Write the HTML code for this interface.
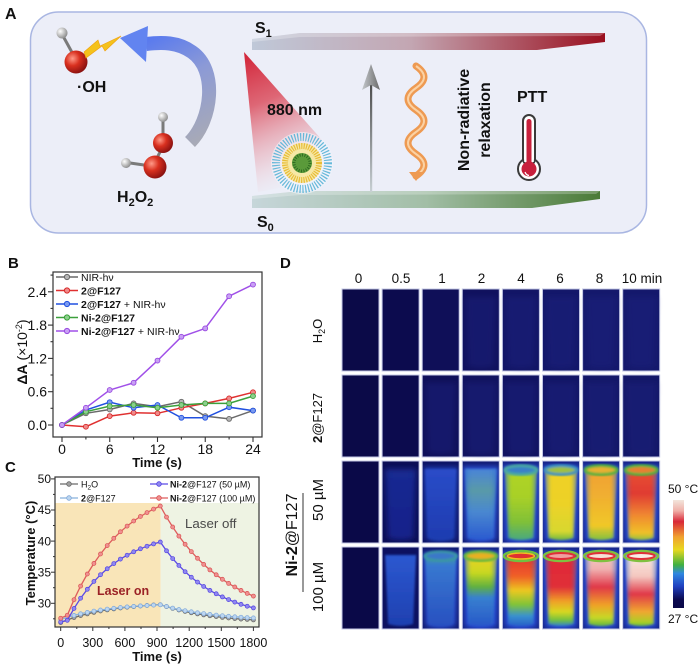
<!DOCTYPE html>
<html><head><meta charset="utf-8"><title>figure</title>
<style>
html,body{margin:0;padding:0;background:#fff;width:700px;height:665px;overflow:hidden}
svg{display:block}
text{font-family:"Liberation Sans",Arial,sans-serif;fill:#111}
</style></head><body>
<svg width="700" height="665" viewBox="0 0 700 665" xmlns="http://www.w3.org/2000/svg">
<defs>
 <linearGradient id="gS1" x1="0" y1="0" x2="1" y2="0">
  <stop offset="0" stop-color="#bfc8d8"/><stop offset="0.45" stop-color="#c3a6b2"/><stop offset="1" stop-color="#9a0f1f"/>
 </linearGradient>
 <linearGradient id="gS0" x1="0" y1="0" x2="1" y2="0">
  <stop offset="0" stop-color="#c6d6da"/><stop offset="0.5" stop-color="#a2bea6"/><stop offset="1" stop-color="#4a7a36"/>
 </linearGradient>
 <linearGradient id="gBeam" gradientUnits="userSpaceOnUse" x1="246" y1="55" x2="300" y2="185">
  <stop offset="0" stop-color="#d2263a" stop-opacity="1"/>
  <stop offset="0.35" stop-color="#da4454" stop-opacity="0.8"/>
  <stop offset="0.75" stop-color="#e89aa4" stop-opacity="0.35"/>
  <stop offset="1" stop-color="#f2d0d6" stop-opacity="0"/>
 </linearGradient>
 <linearGradient id="gArr" gradientUnits="userSpaceOnUse" x1="140" y1="40" x2="195" y2="145">
  <stop offset="0" stop-color="#5678f0"/><stop offset="0.45" stop-color="#8c9ad6"/><stop offset="1" stop-color="#a8aab6"/>
 </linearGradient>
 <radialGradient id="gO" cx="0.35" cy="0.35" r="0.7">
  <stop offset="0" stop-color="#ff9a88"/><stop offset="0.45" stop-color="#d9301f"/><stop offset="1" stop-color="#861010"/>
 </radialGradient>
 <radialGradient id="gH" cx="0.35" cy="0.35" r="0.7">
  <stop offset="0" stop-color="#ffffff"/><stop offset="1" stop-color="#8a8a8a"/>
 </radialGradient>
 <linearGradient id="gVA" x1="0" y1="1" x2="0" y2="0">
  <stop offset="0" stop-color="#c8d0d4"/><stop offset="1" stop-color="#4a4a4a"/>
 </linearGradient>
 <linearGradient id="gHead" x1="0" y1="0" x2="1" y2="0">
  <stop offset="0" stop-color="#c4c8cc"/><stop offset="1" stop-color="#6a6a6a"/>
 </linearGradient>
 <linearGradient id="gCbar" x1="0" y1="0" x2="0" y2="1">
  <stop offset="0" stop-color="#f2e6dc"/><stop offset="0.1" stop-color="#f0b0a8"/><stop offset="0.2" stop-color="#d82838"/>
  <stop offset="0.34" stop-color="#f0a030"/><stop offset="0.46" stop-color="#e8d820"/><stop offset="0.6" stop-color="#40b040"/>
  <stop offset="0.68" stop-color="#3088e0"/><stop offset="0.8" stop-color="#2040c0"/><stop offset="0.92" stop-color="#0c0a50"/><stop offset="1" stop-color="#0a0848"/>
 </linearGradient>
 <linearGradient id="gEdge" x1="0" y1="0" x2="1" y2="0">
  <stop offset="0" stop-color="#3070d0" stop-opacity="0.55"/><stop offset="0.18" stop-color="#3070d0" stop-opacity="0"/>
  <stop offset="0.82" stop-color="#3070d0" stop-opacity="0"/><stop offset="1" stop-color="#3070d0" stop-opacity="0.55"/>
 </linearGradient>

 <!-- tube gradients -->
 <linearGradient id="r3c1" x1="0" y1="0" x2="0" y2="1"><stop offset="0" stop-color="#1a2a92"/><stop offset="1" stop-color="#14208a"/></linearGradient>
 <linearGradient id="r3c2" x1="0" y1="0" x2="0" y2="1"><stop offset="0" stop-color="#2a4cc8"/><stop offset="1" stop-color="#1e3cb0"/></linearGradient>
 <linearGradient id="r3c3" x1="0" y1="0" x2="0" y2="1"><stop offset="0" stop-color="#4a84d8"/><stop offset="0.3" stop-color="#5a9aa8"/><stop offset="0.6" stop-color="#4a88d0"/><stop offset="1" stop-color="#2a5ad0"/></linearGradient>
 <linearGradient id="r3c4" x1="0" y1="0" x2="0" y2="1"><stop offset="0" stop-color="#b0d424"/><stop offset="0.4" stop-color="#a8d028"/><stop offset="0.75" stop-color="#80c038"/><stop offset="1" stop-color="#48a880"/></linearGradient>
 <linearGradient id="r3c5" x1="0" y1="0" x2="0" y2="1"><stop offset="0" stop-color="#f0d028"/><stop offset="0.5" stop-color="#ecd228"/><stop offset="0.88" stop-color="#d8d830"/><stop offset="1" stop-color="#70b840"/></linearGradient>
 <linearGradient id="r3c6" x1="0" y1="0" x2="0" y2="1"><stop offset="0" stop-color="#f0a030"/><stop offset="0.4" stop-color="#f0b030"/><stop offset="0.8" stop-color="#f0c828"/><stop offset="1" stop-color="#80c040"/></linearGradient>
 <linearGradient id="r3c7" x1="0" y1="0" x2="0" y2="1"><stop offset="0" stop-color="#e85030"/><stop offset="0.35" stop-color="#e03c30"/><stop offset="0.65" stop-color="#f08830"/><stop offset="0.9" stop-color="#f0c028"/><stop offset="1" stop-color="#90c040"/></linearGradient>
 <linearGradient id="r4c1" x1="0" y1="0" x2="0" y2="1"><stop offset="0" stop-color="#2c58d0"/><stop offset="1" stop-color="#1e40b0"/></linearGradient>
 <linearGradient id="r4c2" x1="0" y1="0" x2="0" y2="1"><stop offset="0" stop-color="#40a0a0"/><stop offset="0.15" stop-color="#3878d0"/><stop offset="1" stop-color="#2850c0"/></linearGradient>
 <linearGradient id="r4c3" x1="0" y1="0" x2="0" y2="1"><stop offset="0" stop-color="#f0d020"/><stop offset="0.25" stop-color="#c8d820"/><stop offset="0.45" stop-color="#60b040"/><stop offset="0.6" stop-color="#3880d0"/><stop offset="1" stop-color="#2858c8"/></linearGradient>
 <linearGradient id="r4c4" x1="0" y1="0" x2="0" y2="1"><stop offset="0" stop-color="#e03030"/><stop offset="0.3" stop-color="#f06028"/><stop offset="0.5" stop-color="#ecc820"/><stop offset="0.7" stop-color="#80c438"/><stop offset="0.86" stop-color="#3890d0"/><stop offset="1" stop-color="#2860c8"/></linearGradient>
 <linearGradient id="r4c5" x1="0" y1="0" x2="0" y2="1"><stop offset="0" stop-color="#e02838"/><stop offset="0.45" stop-color="#e03038"/><stop offset="0.65" stop-color="#f0a028"/><stop offset="0.8" stop-color="#d8d820"/><stop offset="0.92" stop-color="#70c040"/><stop offset="1" stop-color="#3080d0"/></linearGradient>
 <linearGradient id="r4c6" x1="0" y1="0" x2="0" y2="1"><stop offset="0" stop-color="#f0c8c0"/><stop offset="0.2" stop-color="#f0b0b0"/><stop offset="0.45" stop-color="#e03848"/><stop offset="0.7" stop-color="#f0a028"/><stop offset="0.88" stop-color="#c8d828"/><stop offset="1" stop-color="#60b840"/></linearGradient>
 <linearGradient id="r4c7" x1="0" y1="0" x2="0" y2="1"><stop offset="0" stop-color="#f8e8e0"/><stop offset="0.3" stop-color="#f4c8c0"/><stop offset="0.55" stop-color="#e03848"/><stop offset="0.8" stop-color="#f0a830"/><stop offset="0.95" stop-color="#a8d028"/><stop offset="1" stop-color="#60b840"/></linearGradient>

 <path id="tube" d="M3,8 L34,8 L31,77 Q18.5,81 6,77 Z"/>
 <filter id="bl2" x="-40%" y="-40%" width="180%" height="180%"><feGaussianBlur stdDeviation="2.8"/></filter>
 <filter id="bl1" x="-20%" y="-20%" width="140%" height="140%"><feGaussianBlur stdDeviation="1"/></filter>
 <clipPath id="cc"><rect x="0" y="0" width="37" height="82"/></clipPath>

 <!-- markers B -->
 <marker id="mBg" viewBox="-4 -4 8 8" markerWidth="7" markerHeight="7" markerUnits="userSpaceOnUse"><circle r="2.8" fill="#b4b4b4" stroke="#666" stroke-width="1"/></marker>
 <marker id="mBr" viewBox="-4 -4 8 8" markerWidth="7" markerHeight="7" markerUnits="userSpaceOnUse"><circle r="2.8" fill="#f08a8a" stroke="#d62828" stroke-width="1"/></marker>
 <marker id="mBb" viewBox="-4 -4 8 8" markerWidth="7" markerHeight="7" markerUnits="userSpaceOnUse"><circle r="2.8" fill="#7a9af0" stroke="#2050e0" stroke-width="1"/></marker>
 <marker id="mBn" viewBox="-4 -4 8 8" markerWidth="7" markerHeight="7" markerUnits="userSpaceOnUse"><circle r="2.8" fill="#8cd08c" stroke="#38a038" stroke-width="1"/></marker>
 <marker id="mBp" viewBox="-4 -4 8 8" markerWidth="7" markerHeight="7" markerUnits="userSpaceOnUse"><circle r="2.8" fill="#c8a0f4" stroke="#9848e0" stroke-width="1"/></marker>
 <!-- markers C -->
 <marker id="mCg" viewBox="-4 -4 8 8" markerWidth="6" markerHeight="6" markerUnits="userSpaceOnUse"><circle r="2.7" fill="#a0a0a0" stroke="#666" stroke-width="0.9"/></marker>
 <marker id="mCl" viewBox="-4 -4 8 8" markerWidth="6" markerHeight="6" markerUnits="userSpaceOnUse"><circle r="2.7" fill="#bcd6f0" stroke="#80a8d8" stroke-width="0.9"/></marker>
 <marker id="mCp" viewBox="-4 -4 8 8" markerWidth="6" markerHeight="6" markerUnits="userSpaceOnUse"><circle r="2.7" fill="#9088f0" stroke="#5040e0" stroke-width="0.9"/></marker>
 <marker id="mCr" viewBox="-4 -4 8 8" markerWidth="6" markerHeight="6" markerUnits="userSpaceOnUse"><circle r="2.7" fill="#f09090" stroke="#d85050" stroke-width="0.9"/></marker>
</defs>

<!-- ================= PANEL A ================= -->
<text x="5" y="19" font-size="16" font-weight="bold">A</text>
<rect x="30.5" y="12" width="616" height="221" rx="28" fill="#eceef8" stroke="#a9b6e2" stroke-width="1.5"/>

<polygon points="252,39 300,33 605,33 605,42 537,50 252,50" fill="url(#gS1)"/>
<polygon points="252,39 300,33 605,33 600,36 300,37 252,42" fill="#ffffff" opacity="0.25"/>
<polygon points="252,196 300,191 600,191 600,199 532,208 252,208" fill="url(#gS0)"/>
<polygon points="252,196 300,191 600,191 596,194 300,195 252,199" fill="#ffffff" opacity="0.25"/>
<text x="255" y="33" font-size="16" font-weight="bold">S<tspan font-size="11" dy="4">1</tspan></text>
<text x="257" y="227" font-size="16" font-weight="bold">S<tspan font-size="11" dy="4">0</tspan></text>

<polygon points="244,52 258,192 290,186 322,140" fill="url(#gBeam)"/>
<circle cx="302" cy="163" r="31" fill="#f4f5fb" opacity="0.6"/>
<circle cx="302" cy="163" r="26" fill="none" stroke="#58b2d6" stroke-width="8" stroke-dasharray="1.2 1.6" opacity="0.9"/>
<circle cx="302" cy="163" r="20" fill="#f6e8a6"/>
<circle cx="302" cy="163" r="17" fill="none" stroke="#e8bc38" stroke-width="6" stroke-dasharray="1.2 1.2"/>
<circle cx="302" cy="163" r="10" fill="#5a9a3a"/>
<circle cx="302" cy="163" r="8" fill="none" stroke="#2e6a22" stroke-width="3" stroke-dasharray="1 1.5"/>
<text x="267" y="115" font-size="16" font-weight="bold">880 nm</text>

<rect x="370" y="82" width="2.2" height="110" fill="url(#gVA)"/>
<polygon points="371,64 362,90 371,85 380,90" fill="url(#gHead)"/>

<path d="M416,66 Q432,77 416,88 Q400,99 416,110 Q432,121 416,132 Q400,143 416,154 Q432,165 416,176" fill="none" stroke="#ee9a52" stroke-width="7" stroke-linecap="round"/>
<path d="M416,66 Q432,77 416,88 Q400,99 416,110 Q432,121 416,132 Q400,143 416,154 Q432,165 416,176" fill="none" stroke="#fbd2a4" stroke-width="2"/>
<polygon points="409,172 423,172 416,181" fill="#ee9a52"/>

<text transform="translate(469,120) rotate(-90)" text-anchor="middle" font-size="16" font-weight="bold">Non-radiative</text>
<text transform="translate(490,120) rotate(-90)" text-anchor="middle" font-size="16" font-weight="bold">relaxation</text>
<text x="517" y="102" font-size="16" font-weight="bold">PTT</text>

<circle cx="529" cy="169" r="11" fill="#fff" stroke="#3a3a3a" stroke-width="2"/>
<rect x="523" y="115" width="12" height="50" rx="6" fill="#fff" stroke="#3a3a3a" stroke-width="2"/>
<rect x="524.2" y="150" width="9.6" height="12" fill="#fff"/>
<rect x="526.5" y="119" width="5" height="46" rx="2.5" fill="#c8203c"/>
<circle cx="529" cy="169" r="7.5" fill="#c8203c"/>
<path d="M525,172 Q526,175 529,175.5" stroke="#fff" stroke-width="1.2" fill="none"/>

<path d="M190,142 C212,120 218,70 192,52 C178,42 162,42 146,44" fill="none" stroke="url(#gArr)" stroke-width="14"/>
<polygon points="120,38 148,26 146,62" fill="#6284f0"/>

<line x1="63" y1="36" x2="74" y2="56" stroke="#7a7a7a" stroke-width="3"/>
<circle cx="62" cy="33" r="5.5" fill="url(#gH)"/>
<circle cx="76" cy="62" r="11.5" fill="url(#gO)"/>
<polygon points="84,52 98,40 100,46 121,36 105,51 102,46 86,58" fill="#f4c21c" stroke="#f0a010" stroke-width="0.6"/>
<text x="77" y="92" font-size="16" font-weight="bold">·OH</text>

<line x1="163" y1="121" x2="163" y2="136" stroke="#7a7a7a" stroke-width="3"/>
<line x1="161" y1="150" x2="157" y2="158" stroke="#7a7a7a" stroke-width="3"/>
<line x1="144" y1="165" x2="130" y2="163" stroke="#7a7a7a" stroke-width="3"/>
<circle cx="163" cy="117" r="5" fill="url(#gH)"/>
<circle cx="163" cy="143" r="10" fill="url(#gO)"/>
<circle cx="155" cy="167" r="11.5" fill="url(#gO)"/>
<circle cx="126" cy="163" r="5" fill="url(#gH)"/>
<text x="117" y="202" font-size="16" font-weight="bold">H<tspan font-size="11" dy="4">2</tspan><tspan dy="-4">O</tspan><tspan font-size="11" dy="4">2</tspan></text>

<!-- ================= PANEL B ================= -->
<text x="8" y="268" font-size="15" font-weight="bold">B</text>
<rect x="53" y="272" width="209" height="165" fill="none" stroke="#333" stroke-width="1.2"/>
<g stroke="#333" stroke-width="1.1">
 <line x1="48" y1="425" x2="53" y2="425"/><line x1="48" y1="391.7" x2="53" y2="391.7"/><line x1="48" y1="358.4" x2="53" y2="358.4"/><line x1="48" y1="325.1" x2="53" y2="325.1"/><line x1="48" y1="291.8" x2="53" y2="291.8"/>
 <line x1="50.5" y1="408.3" x2="53" y2="408.3"/><line x1="50.5" y1="375" x2="53" y2="375"/><line x1="50.5" y1="341.7" x2="53" y2="341.7"/><line x1="50.5" y1="308.4" x2="53" y2="308.4"/><line x1="50.5" y1="275.1" x2="53" y2="275.1"/>
 <line x1="62" y1="437" x2="62" y2="442"/><line x1="109.75" y1="437" x2="109.75" y2="442"/><line x1="157.5" y1="437" x2="157.5" y2="442"/><line x1="205.25" y1="437" x2="205.25" y2="442"/><line x1="253" y1="437" x2="253" y2="442"/>
 <line x1="85.9" y1="437" x2="85.9" y2="439.5"/><line x1="133.6" y1="437" x2="133.6" y2="439.5"/><line x1="181.4" y1="437" x2="181.4" y2="439.5"/><line x1="229.1" y1="437" x2="229.1" y2="439.5"/>
</g>
<g font-size="14" text-anchor="end">
 <text x="47" y="430">0.0</text><text x="47" y="396.7">0.6</text><text x="47" y="363.4">1.2</text><text x="47" y="330.1">1.8</text><text x="47" y="296.8">2.4</text>
</g>
<g font-size="14" text-anchor="middle">
 <text x="62" y="454">0</text><text x="109.75" y="454">6</text><text x="157.5" y="454">12</text><text x="205.25" y="454">18</text><text x="253" y="454">24</text>
</g>
<text x="157" y="467" font-size="13" font-weight="bold" text-anchor="middle">Time (s)</text>
<text transform="translate(27,352) rotate(-90)" text-anchor="middle" font-size="14"><tspan font-weight="bold">ΔA</tspan> (×10<tspan font-size="9" dy="-5">-2</tspan><tspan dy="5">)</tspan></text>

<g fill="none" stroke-width="1.5">
 <polyline stroke="#6a6a6a" marker-start="url(#mBg)" marker-mid="url(#mBg)" marker-end="url(#mBg)" points="62,425 85.9,413.3 109.7,409.5 133.6,403.4 157.5,406.7 181.4,401.7 205.2,416.1 229.1,418.9 253,410.6"/>
 <polyline stroke="#e03030" marker-start="url(#mBr)" marker-mid="url(#mBr)" marker-end="url(#mBr)" points="62,425 85.9,426.7 109.7,416.1 133.6,412.8 157.5,413.3 181.4,407.8 205.2,403.4 229.1,398.4 253,392.3"/>
 <polyline stroke="#2050e0" marker-start="url(#mBb)" marker-mid="url(#mBb)" marker-end="url(#mBb)" points="62,425 85.9,410 109.7,402.2 133.6,407.8 157.5,405 181.4,417.8 205.2,417.8 229.1,407.2 253,410.6"/>
 <polyline stroke="#3ca03c" marker-start="url(#mBn)" marker-mid="url(#mBn)" marker-end="url(#mBn)" points="62,425 85.9,411.7 109.7,406.1 133.6,405 157.5,407.8 181.4,405 205.2,403.4 229.1,403.4 253,396.1"/>
 <polyline stroke="#a050e8" marker-start="url(#mBp)" marker-mid="url(#mBp)" marker-end="url(#mBp)" points="62,425 85.9,407.8 109.7,390 133.6,382.8 157.5,360.6 181.4,336.8 205.2,328.4 229.1,296.2 253,284.6"/>
</g>
<g stroke-width="1.6">
 <line x1="56" y1="277" x2="78" y2="277" stroke="#6a6a6a"/>
 <line x1="56" y1="290.5" x2="78" y2="290.5" stroke="#e03030"/>
 <line x1="56" y1="304" x2="78" y2="304" stroke="#2050e0"/>
 <line x1="56" y1="317.5" x2="78" y2="317.5" stroke="#3ca03c"/>
 <line x1="56" y1="331" x2="78" y2="331" stroke="#a050e8"/>
</g>
<circle cx="67" cy="277" r="2.6" fill="#b4b4b4" stroke="#666"/>
<circle cx="67" cy="290.5" r="2.6" fill="#f08a8a" stroke="#d62828"/>
<circle cx="67" cy="304" r="2.6" fill="#7a9af0" stroke="#2050e0"/>
<circle cx="67" cy="317.5" r="2.6" fill="#8cd08c" stroke="#38a038"/>
<circle cx="67" cy="331" r="2.6" fill="#c8a0f4" stroke="#9848e0"/>
<g font-size="10.5">
 <text x="81" y="281">NIR-hν</text>
 <text x="81" y="294.5" font-weight="bold">2@F127</text>
 <text x="81" y="308"><tspan font-weight="bold">2@F127</tspan> + NIR-hν</text>
 <text x="81" y="321.5" font-weight="bold">Ni-2@F127</text>
 <text x="81" y="335"><tspan font-weight="bold">Ni-2@F127</tspan> + NIR-hν</text>
</g>

<!-- ================= PANEL C ================= -->
<text x="5" y="472" font-size="15" font-weight="bold">C</text>
<rect x="55" y="503" width="105.7" height="124" fill="#f9e5b8"/>
<rect x="160.7" y="503" width="98.3" height="124" fill="#eef3e3"/>
<g id="cCurves"></g>
<rect x="55" y="477" width="204" height="150" fill="none" stroke="#333" stroke-width="1.2"/>
<g stroke="#333" stroke-width="1">
 <line x1="51" y1="603.3" x2="55" y2="603.3"/><line x1="51" y1="572.2" x2="55" y2="572.2"/><line x1="51" y1="541.1" x2="55" y2="541.1"/><line x1="51" y1="510" x2="55" y2="510"/><line x1="51" y1="478.9" x2="55" y2="478.9"/>
 <line x1="53" y1="618.8" x2="55" y2="618.8"/><line x1="53" y1="587.7" x2="55" y2="587.7"/><line x1="53" y1="556.6" x2="55" y2="556.6"/><line x1="53" y1="525.5" x2="55" y2="525.5"/><line x1="53" y1="494.4" x2="55" y2="494.4"/>
 <line x1="60.7" y1="627" x2="60.7" y2="631"/><line x1="92.8" y1="627" x2="92.8" y2="631"/><line x1="124.9" y1="627" x2="124.9" y2="631"/><line x1="157" y1="627" x2="157" y2="631"/><line x1="189.2" y1="627" x2="189.2" y2="631"/><line x1="221.3" y1="627" x2="221.3" y2="631"/><line x1="253.4" y1="627" x2="253.4" y2="631"/>
 <line x1="76.8" y1="627" x2="76.8" y2="629"/><line x1="108.9" y1="627" x2="108.9" y2="629"/><line x1="141" y1="627" x2="141" y2="629"/><line x1="173.1" y1="627" x2="173.1" y2="629"/><line x1="205.2" y1="627" x2="205.2" y2="629"/><line x1="237.3" y1="627" x2="237.3" y2="629"/>
</g>
<g font-size="12" text-anchor="end">
 <text x="51" y="607.5">30</text><text x="51" y="576.4">35</text><text x="51" y="545.3">40</text><text x="51" y="514.2">45</text><text x="51" y="483">50</text>
</g>
<g font-size="12.5" text-anchor="middle">
 <text x="60.7" y="647">0</text><text x="92.8" y="647">300</text><text x="124.9" y="647">600</text><text x="157" y="647">900</text><text x="189.2" y="647">1200</text><text x="221.3" y="647">1500</text><text x="253.4" y="647">1800</text>
</g>
<text x="157" y="661" font-size="13" font-weight="bold" text-anchor="middle">Time (s)</text>
<text transform="translate(35,553) rotate(-90)" text-anchor="middle" font-size="13" font-weight="bold">Temperature (°C)</text>
<text x="97" y="595" font-size="12.5" font-weight="bold" style="fill:#9b2226">Laser on</text>
<text x="185" y="528" font-size="13.3" style="fill:#4a4a4a">Laser off</text>
<g stroke-width="1.2">
 <line x1="60" y1="484" x2="78" y2="484" stroke="#6b6b6b"/>
 <line x1="60" y1="498" x2="78" y2="498" stroke="#86b0dc"/>
 <line x1="150" y1="484" x2="168" y2="484" stroke="#5a4ae6"/>
 <line x1="150" y1="498" x2="168" y2="498" stroke="#de5c5c"/>
</g>
<circle cx="69" cy="484" r="2.3" fill="#a0a0a0" stroke="#666" stroke-width="0.8"/>
<circle cx="69" cy="498" r="2.3" fill="#bcd6f0" stroke="#80a8d8" stroke-width="0.8"/>
<circle cx="159" cy="484" r="2.3" fill="#9088f0" stroke="#5040e0" stroke-width="0.8"/>
<circle cx="159" cy="498" r="2.3" fill="#f09090" stroke="#d85050" stroke-width="0.8"/>
<g font-size="9" style="fill:#333">
 <text x="81" y="487.5">H<tspan font-size="6.5" dy="2">2</tspan><tspan dy="-2">O</tspan></text>
 <text x="81" y="501.5"><tspan font-weight="bold">2</tspan>@F127</text>
 <text x="170" y="487.5"><tspan font-weight="bold">Ni-2</tspan>@F127 (50 µM)</text>
 <text x="170" y="501.5"><tspan font-weight="bold">Ni-2</tspan>@F127 (100 µM)</text>
</g>

<!-- ================= PANEL D ================= -->
<text x="280" y="268" font-size="15" font-weight="bold">D</text>
<g font-size="13.5" text-anchor="middle">
 <text x="358.5" y="283">0</text><text x="401" y="283">0.5</text><text x="442" y="283">1</text><text x="481.5" y="283">2</text><text x="521" y="283">4</text><text x="560" y="283">6</text><text x="599.5" y="283">8</text><text x="642" y="283">10 min</text>
</g>
<text transform="translate(322,331) rotate(-90)" text-anchor="middle" font-size="13">H<tspan font-size="9" dy="3">2</tspan><tspan dy="-3">O</tspan></text>
<text transform="translate(322,418) rotate(-90)" text-anchor="middle" font-size="13"><tspan font-weight="bold">2</tspan>@F127</text>
<text transform="translate(297,535) rotate(-90)" text-anchor="middle" font-size="16"><tspan font-weight="bold">Ni-2</tspan>@F127</text>
<line x1="303" y1="493" x2="303" y2="592" stroke="#333" stroke-width="1"/>
<text transform="translate(323,500) rotate(-90)" text-anchor="middle" font-size="15">50 µM</text>
<text transform="translate(323,587) rotate(-90)" text-anchor="middle" font-size="15">100 µM</text>

<g stroke="#c4c8e6" stroke-width="1">
 <rect x="342" y="289" width="37" height="82" fill="#0b0a48"/>
 <rect x="382.1" y="289" width="37" height="82" fill="#0c0b4e"/>
 <rect x="422.2" y="289" width="37" height="82" fill="#0f0f58"/>
 <rect x="462.3" y="289" width="37" height="82" fill="#11125e"/>
 <rect x="502.4" y="289" width="37" height="82" fill="#131666"/>
 <rect x="542.5" y="289" width="37" height="82" fill="#14186a"/>
 <rect x="582.6" y="289" width="37" height="82" fill="#15196c"/>
 <rect x="622.7" y="289" width="37" height="82" fill="#15196c"/>
 <rect x="342" y="375" width="37" height="82" fill="#0b0a48"/>
 <rect x="382.1" y="375" width="37" height="82" fill="#0c0b4e"/>
 <rect x="422.2" y="375" width="37" height="82" fill="#10115a"/>
 <rect x="462.3" y="375" width="37" height="82" fill="#121460"/>
 <rect x="502.4" y="375" width="37" height="82" fill="#121462"/>
 <rect x="542.5" y="375" width="37" height="82" fill="#131666"/>
 <rect x="582.6" y="375" width="37" height="82" fill="#141868"/>
 <rect x="622.7" y="375" width="37" height="82" fill="#141868"/>
</g>
<g fill="#1c2080" opacity="0.45" filter="url(#bl2)">
 <use href="#tube" transform="translate(462.3,289)"/><use href="#tube" transform="translate(502.4,289)"/><use href="#tube" transform="translate(542.5,289)"/><use href="#tube" transform="translate(582.6,289)"/><use href="#tube" transform="translate(622.7,289)"/>
 <use href="#tube" transform="translate(422.2,375)"/><use href="#tube" transform="translate(462.3,375)"/><use href="#tube" transform="translate(502.4,375)"/><use href="#tube" transform="translate(542.5,375)"/><use href="#tube" transform="translate(582.6,375)"/><use href="#tube" transform="translate(622.7,375)"/>
</g>

<!-- Row 3 (50 uM) -->
<g transform="translate(342,461)"><rect width="37" height="82" fill="#0a0948" stroke="#c4c8e6"/></g>
<g transform="translate(382.1,461)"><g clip-path="url(#cc)"><rect width="37" height="82" fill="#0c0e56"/><use href="#tube" fill="url(#r3c1)" filter="url(#bl2)"/></g><rect width="37" height="82" fill="none" stroke="#c4c8e6"/></g>
<g transform="translate(422.2,461)"><g clip-path="url(#cc)"><rect width="37" height="82" fill="#0e1262"/><use href="#tube" fill="#1e3cb0" stroke="#1e3cb0" stroke-width="4" filter="url(#bl2)"/><use href="#tube" fill="url(#r3c2)" filter="url(#bl1)"/></g><rect width="37" height="82" fill="none" stroke="#c4c8e6"/></g>
<g transform="translate(462.3,461)"><g clip-path="url(#cc)"><rect width="37" height="82" fill="#10186e"/><use href="#tube" fill="#2a50d0" stroke="#2a50d0" stroke-width="6" filter="url(#bl2)"/><use href="#tube" fill="url(#r3c3)" filter="url(#bl1)"/><use href="#tube" fill="url(#gEdge)" filter="url(#bl1)"/></g><rect width="37" height="82" fill="none" stroke="#c4c8e6"/></g>
<g transform="translate(502.4,461)"><g clip-path="url(#cc)"><rect width="37" height="82" fill="#142080"/><use href="#tube" fill="#2a50d8" stroke="#2a50d8" stroke-width="7" filter="url(#bl2)"/><use href="#tube" fill="url(#r3c4)" filter="url(#bl1)"/><use href="#tube" fill="url(#gEdge)" filter="url(#bl1)"/><ellipse cx="18.5" cy="9" rx="16" ry="4.5" fill="#3a80c8" stroke="#48a8a0" stroke-width="3" filter="url(#bl1)"/></g><rect width="37" height="82" fill="none" stroke="#c4c8e6"/></g>
<g transform="translate(542.5,461)"><g clip-path="url(#cc)"><rect width="37" height="82" fill="#142080"/><use href="#tube" fill="#2a50d8" stroke="#2a50d8" stroke-width="7" filter="url(#bl2)"/><use href="#tube" fill="url(#r3c5)" filter="url(#bl1)"/><use href="#tube" fill="url(#gEdge)" filter="url(#bl1)"/><ellipse cx="18.5" cy="9" rx="16" ry="4.5" fill="#a0c040" stroke="#3a90c0" stroke-width="3" filter="url(#bl1)"/></g><rect width="37" height="82" fill="none" stroke="#c4c8e6"/></g>
<g transform="translate(582.6,461)"><g clip-path="url(#cc)"><rect width="37" height="82" fill="#142080"/><use href="#tube" fill="#2a50d8" stroke="#2a50d8" stroke-width="7" filter="url(#bl2)"/><use href="#tube" fill="url(#r3c6)" filter="url(#bl1)"/><use href="#tube" fill="url(#gEdge)" filter="url(#bl1)"/><ellipse cx="18.5" cy="9" rx="16" ry="4.5" fill="#e8b030" stroke="#50b040" stroke-width="3" filter="url(#bl1)"/></g><rect width="37" height="82" fill="none" stroke="#c4c8e6"/></g>
<g transform="translate(622.7,461)"><g clip-path="url(#cc)"><rect width="37" height="82" fill="#142080"/><use href="#tube" fill="#2a50d8" stroke="#2a50d8" stroke-width="7" filter="url(#bl2)"/><use href="#tube" fill="url(#r3c7)" filter="url(#bl1)"/><use href="#tube" fill="url(#gEdge)" filter="url(#bl1)"/><ellipse cx="18.5" cy="9" rx="16" ry="4.5" fill="#e88030" stroke="#50b040" stroke-width="3" filter="url(#bl1)"/></g><rect width="37" height="82" fill="none" stroke="#c4c8e6"/></g>

<!-- Row 4 (100 uM) -->
<g transform="translate(342,547)"><rect width="37" height="82" fill="#0a0948" stroke="#c4c8e6"/></g>
<g transform="translate(382.1,547)"><g clip-path="url(#cc)"><rect width="37" height="82" fill="#0d1160"/><use href="#tube" fill="url(#r4c1)" filter="url(#bl1)"/></g><rect width="37" height="82" fill="none" stroke="#c4c8e6"/></g>
<g transform="translate(422.2,547)"><g clip-path="url(#cc)"><rect width="37" height="82" fill="#10186e"/><use href="#tube" fill="#2a50d0" stroke="#2a50d0" stroke-width="5" filter="url(#bl2)"/><use href="#tube" fill="url(#r4c2)" filter="url(#bl1)"/><ellipse cx="18.5" cy="9" rx="16" ry="4.5" fill="#3a78c8" stroke="#3a98a0" stroke-width="2.5" filter="url(#bl1)"/></g><rect width="37" height="82" fill="none" stroke="#c4c8e6"/></g>
<g transform="translate(462.3,547)"><g clip-path="url(#cc)"><rect width="37" height="82" fill="#12207c"/><use href="#tube" fill="#2a50d8" stroke="#2a50d8" stroke-width="7" filter="url(#bl2)"/><use href="#tube" fill="url(#r4c3)" filter="url(#bl1)"/><use href="#tube" fill="url(#gEdge)" filter="url(#bl1)"/><ellipse cx="18.5" cy="9" rx="16" ry="4.5" fill="#e8b020" stroke="#60b840" stroke-width="3" filter="url(#bl1)"/></g><rect width="37" height="82" fill="none" stroke="#c4c8e6"/></g>
<g transform="translate(502.4,547)"><g clip-path="url(#cc)"><rect width="37" height="82" fill="#142282"/><use href="#tube" fill="#2a50d8" stroke="#2a50d8" stroke-width="7" filter="url(#bl2)"/><use href="#tube" fill="url(#r4c4)" filter="url(#bl1)"/><use href="#tube" fill="url(#gEdge)" filter="url(#bl1)"/><ellipse cx="18.5" cy="9" rx="17" ry="5" fill="none" stroke="#70c040" stroke-width="2.5"/><ellipse cx="18.5" cy="9" rx="13.5" ry="3" fill="#e03030" stroke="#f0c020" stroke-width="1.5"/></g><rect width="37" height="82" fill="none" stroke="#c4c8e6"/></g>
<g transform="translate(542.5,547)"><g clip-path="url(#cc)"><rect width="37" height="82" fill="#142282"/><use href="#tube" fill="#2a50d8" stroke="#2a50d8" stroke-width="7" filter="url(#bl2)"/><use href="#tube" fill="url(#r4c5)" filter="url(#bl1)"/><use href="#tube" fill="url(#gEdge)" filter="url(#bl1)"/><ellipse cx="18.5" cy="9" rx="17" ry="5" fill="none" stroke="#80c040" stroke-width="2.5"/><ellipse cx="18.5" cy="9" rx="13.5" ry="3" fill="#f0a0a0" stroke="#e03038" stroke-width="2"/></g><rect width="37" height="82" fill="none" stroke="#c4c8e6"/></g>
<g transform="translate(582.6,547)"><g clip-path="url(#cc)"><rect width="37" height="82" fill="#142282"/><use href="#tube" fill="#2a50d8" stroke="#2a50d8" stroke-width="7" filter="url(#bl2)"/><use href="#tube" fill="url(#r4c6)" filter="url(#bl1)"/><use href="#tube" fill="url(#gEdge)" filter="url(#bl1)"/><ellipse cx="18.5" cy="9" rx="17" ry="5" fill="none" stroke="#80c040" stroke-width="2.5"/><ellipse cx="18.5" cy="9" rx="13.5" ry="3" fill="#f6e0d8" stroke="#e03038" stroke-width="2"/></g><rect width="37" height="82" fill="none" stroke="#c4c8e6"/></g>
<g transform="translate(622.7,547)"><g clip-path="url(#cc)"><rect width="37" height="82" fill="#142282"/><use href="#tube" fill="#2a50d8" stroke="#2a50d8" stroke-width="7" filter="url(#bl2)"/><use href="#tube" fill="url(#r4c7)" filter="url(#bl1)"/><use href="#tube" fill="url(#gEdge)" filter="url(#bl1)"/><ellipse cx="18.5" cy="9" rx="17" ry="5" fill="none" stroke="#80c040" stroke-width="2.5"/><ellipse cx="18.5" cy="9" rx="13.5" ry="3" fill="#faece6" stroke="#e03038" stroke-width="2"/></g><rect width="37" height="82" fill="none" stroke="#c4c8e6"/></g>

<rect x="673" y="500" width="11" height="108" fill="url(#gCbar)"/>
<text x="668" y="493" font-size="12">50 °C</text>
<text x="668" y="623" font-size="12">27 °C</text>
</svg>
<script>
(function(){
var NS="http://www.w3.org/2000/svg";
var g=document.getElementById("cCurves");
function X(t){return 60.7+t*0.10706;}
function Y(T){return 603.3-(T-30)*6.22;}
var E=Math.exp;
var cs=[
 [function(t){return t<=930?26.9+3.3*(1-E(-t/450)):26.8+3.0*E(-(t-930)/500);},"#6b6b6b","mCg"],
 [function(t){return t<=930?27.4+2.7*(1-E(-t/450)):27.2+2.56*E(-(t-930)/500);},"#86b0dc","mCl"],
 [function(t){return t<=930?(t<60?27.0+0.2*t/60:27.2+14.8*(1-E(-(t-60)/450))):27+12.85*E(-(t-930)/500);},"#5a4ae6","mCp"],
 [function(t){return t<=930?(t<60?27.6+0.4*t/60:28+21.4*(1-E(-(t-60)/500))):27+18.64*E(-(t-930)/580);},"#de5c5c","mCr"]
];
cs.forEach(function(c){
 var pts=[];
 for(var i=0;i<=30;i++){var t=i<=15?i*62:930+(i-15)*58; pts.push(X(t).toFixed(1)+","+Y(c[0](t)).toFixed(1));}
 var p=document.createElementNS(NS,"polyline");
 p.setAttribute("points",pts.join(" "));
 p.setAttribute("fill","none");p.setAttribute("stroke",c[1]);p.setAttribute("stroke-width","1.3");
 p.setAttribute("marker-start","url(#"+c[2]+")");p.setAttribute("marker-mid","url(#"+c[2]+")");p.setAttribute("marker-end","url(#"+c[2]+")");
 g.appendChild(p);
});
})();
</script>
</body></html>
